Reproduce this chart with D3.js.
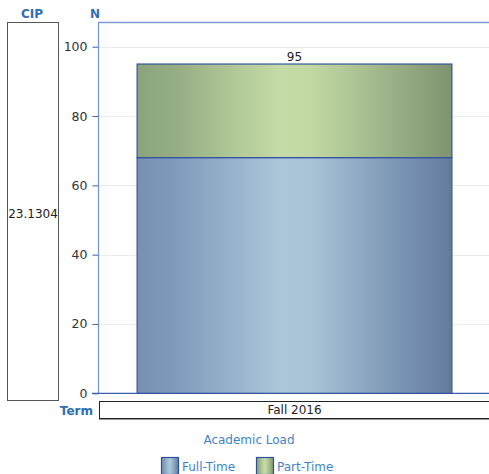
<!DOCTYPE html>
<html><head><meta charset="utf-8">
<script src="https://cdn.jsdelivr.net/npm/d3@7"></script>
<style>
html,body{margin:0;padding:0;background:#fff;}
svg{display:block;}
text{font-family:"DejaVu Sans",sans-serif;}
</style></head>
<body>
<script>
const cipLabels = ["23.1304"];
const terms = ["Fall 2016"];
const seriesNames = ["Full-Time", "Part-Time"];
const fullTime = [68];
const partTime = [27];
const totals = [95];
const yTicks = [0, 20, 40, 60, 80, 100];

const W = 489, H = 474;
const svg = d3.select("body").append("svg").attr("width", W).attr("height", H);
const defs = svg.append("defs");

function grad(id, stops) {
  const g = defs.append("linearGradient").attr("id", id).attr("x1", "0%").attr("x2", "100%").attr("y1", "0%").attr("y2", "0%");
  stops.forEach(s => g.append("stop").attr("offset", s[0]).attr("stop-color", s[1]));
}
grad("gBlue", [[0, "#7690b0"], [0.12, "#7f9bbb"], [0.45, "#abc5d9"], [0.55, "#a9c3d7"], [0.85, "#7892b2"], [1, "#647c9c"]]);
grad("gGreen", [[0, "#8ca47c"], [0.12, "#96ad83"], [0.45, "#c4dba7"], [0.55, "#c2d9a4"], [0.85, "#94ab82"], [1, "#7e936f"]]);

const plotL = 99, plotR = 490, plotT = 22, y0 = 393.3, y100 = 46.7;
const x = d3.scaleBand().domain(terms).range([plotL, plotR]).paddingInner(0.108).paddingOuter(0.108);
const y = d3.scaleLinear().domain([0, 100]).range([y0, y100]);

const blue = "#2f6db5";
// Headers
svg.append("text").attr("x", 32).attr("y", 18).attr("text-anchor", "middle").attr("font-size", 12).attr("font-weight", "bold").attr("fill", blue).text("CIP");
svg.append("text").attr("x", 95).attr("y", 18).attr("text-anchor", "middle").attr("font-size", 12).attr("font-weight", "bold").attr("fill", blue).text("N");

// CIP box
svg.append("rect").attr("x", 7.5).attr("y", 22.5).attr("width", 51).attr("height", 378).attr("fill", "#fff").attr("stroke", "#555").attr("stroke-width", 1);
svg.append("text").attr("x", 33).attr("y", 218).attr("text-anchor", "middle").attr("font-size", 12).attr("fill", "#222").text(cipLabels[0]);

// gridlines
svg.append("g").selectAll("line").data(yTicks.filter(d => d > 0)).join("line")
  .attr("x1", plotL).attr("x2", W).attr("y1", d => Math.round(y(d)) + 0.5).attr("y2", d => Math.round(y(d)) + 0.5)
  .attr("stroke", "#ebebeb");

// axis
const yAxis = d3.axisLeft(y).tickValues(yTicks).tickSize(6).tickPadding(5);
const ag = svg.append("g").attr("transform", `translate(${plotL - 0.5},0)`).call(yAxis);
ag.select(".domain").remove();
ag.selectAll(".tick line").attr("stroke", "#3b5fb0");
ag.selectAll(".tick text").attr("font-size", 12.5).attr("fill", "#333").attr("font-family", "DejaVu Sans");

// plot borders
svg.append("line").attr("x1", plotL - 0.5).attr("x2", W).attr("y1", plotT + 0.5).attr("y2", plotT + 0.5).attr("stroke", "#7f9bd4").attr("stroke-width", 1.5);
svg.append("line").attr("x1", plotL - 0.5).attr("x2", plotL - 0.5).attr("y1", plotT).attr("y2", y0).attr("stroke", "#7393d2").attr("stroke-width", 1.2);
svg.append("line").attr("x1", plotL - 7).attr("x2", W).attr("y1", y0).attr("y2", y0).attr("stroke", "#3b5fb0").attr("stroke-width", 1.2);

// bars
const bw = x.bandwidth();
const g = svg.append("g");
g.selectAll("rect.ft").data(terms).join("rect").attr("class", "ft")
  .attr("x", d => x(d)).attr("width", bw)
  .attr("y", (d, i) => y(fullTime[i])).attr("height", (d, i) => y(0) - y(fullTime[i]))
  .attr("fill", "url(#gBlue)").attr("stroke", "#34549f").attr("stroke-width", 1.2);
g.selectAll("rect.pt").data(terms).join("rect").attr("class", "pt")
  .attr("x", d => x(d)).attr("width", bw)
  .attr("y", (d, i) => y(fullTime[i] + partTime[i])).attr("height", (d, i) => y(fullTime[i]) - y(fullTime[i] + partTime[i]))
  .attr("fill", "url(#gGreen)").attr("stroke", "#34549f").attr("stroke-width", 1.2);
g.selectAll("text.tot").data(terms).join("text").attr("class", "tot")
  .attr("x", d => x(d) + bw / 2).attr("y", (d, i) => y(totals[i]) - 3)
  .attr("text-anchor", "middle").attr("font-size", 12).attr("fill", "#222").text((d, i) => totals[i]);

// Term row
svg.append("text").attr("x", 93).attr("y", 415).attr("text-anchor", "end").attr("font-size", 12).attr("font-weight", "bold").attr("fill", blue).text("Term");
svg.append("rect").attr("x", 99.5).attr("y", 401.5).attr("width", 400).attr("height", 17).attr("fill", "#fff").attr("stroke", "#222");
svg.append("line").attr("x1", 99).attr("x2", W).attr("y1", 419.5).attr("y2", 419.5).attr("stroke", "#999").attr("stroke-width", 1);
svg.selectAll("text.term").data(terms).join("text").attr("class", "term")
  .attr("x", d => x(d) + bw / 2).attr("y", 414).attr("text-anchor", "middle").attr("font-size", 12).attr("fill", "#222").text(d => d);

// Legend
const lblue = "#3f84c8";
svg.append("text").attr("x", 249).attr("y", 444).attr("text-anchor", "middle").attr("font-size", 12).attr("fill", lblue).text("Academic Load");
const legX = [161, 256];
const legFills = ["url(#gBlue)", "url(#gGreen)"];
const lg = svg.append("g").selectAll("g").data(seriesNames).join("g").attr("transform", (d, i) => `translate(${legX[i]},457)`);
lg.append("rect").attr("x", 0.5).attr("y", 0.5).attr("width", 17).attr("height", 17).attr("fill", (d, i) => legFills[i]).attr("stroke", "#2f4f9a").attr("stroke-width", 1.2);
lg.append("text").attr("x", 21).attr("y", 14).attr("font-size", 12).attr("fill", lblue).text(d => d);
</script>
</body></html>
